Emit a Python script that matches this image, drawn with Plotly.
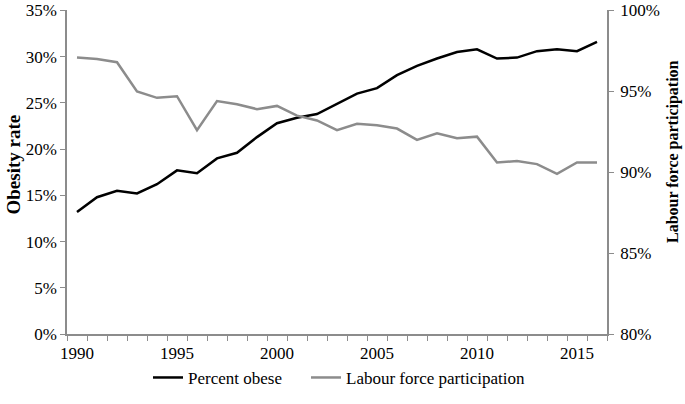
import plotly.graph_objects as go

years = list(range(1990, 2017))
percent_obese = [13.2, 14.8, 15.5, 15.2, 16.2, 17.7, 17.4, 19.0, 19.6, 21.3,
                 22.8, 23.4, 23.8, 24.9, 26.0, 26.6, 28.0, 29.0, 29.8, 30.5,
                 30.8, 29.8, 29.9, 30.6, 30.8, 30.6, 31.6]
labour_force = [97.1, 97.0, 96.8, 95.0, 94.6, 94.7, 92.6, 94.4, 94.2, 93.9,
                94.1, 93.5, 93.2, 92.6, 93.0, 92.9, 92.7, 92.0, 92.4, 92.1,
                92.2, 90.6, 90.7, 90.5, 89.9, 90.6, 90.6]
x_labels = [1990, 1995, 2000, 2005, 2010, 2015]
left_ticks = [0, 5, 10, 15, 20, 25, 30, 35]
right_ticks = [80, 85, 90, 95, 100]

serif = "Liberation Serif"
axis_grey = "#8c8c8c"
tick_font = dict(family=serif, size=17, color="black")
top, bottom = 10, 70
plot_h = 404 - top - bottom

fig = go.Figure()
fig.add_trace(go.Scatter(
    x=years, y=percent_obese, name="Percent obese", legend="legend",
    mode="lines", line=dict(color="black", width=2.5)))
fig.add_trace(go.Scatter(
    x=years, y=labour_force, name="Labour force participation", legend="legend2",
    mode="lines", line=dict(color="#8c8c8c", width=2.5), yaxis="y2"))

legend_style = dict(orientation="h", yanchor="top", y=-0.08, xanchor="left",
                    font=dict(family=serif, size=17), itemwidth=30,
                    bgcolor="rgba(0,0,0,0)")

fig.update_layout(
    width=685, height=404,
    margin=dict(l=67, r=78, t=top, b=bottom, autoexpand=False),
    plot_bgcolor="white", paper_bgcolor="white",
    font=dict(family=serif, size=17, color="black"),
    showlegend=True,
    legend=dict(legend_style, x=(148 - 67) / 540),
    legend2=dict(legend_style, x=(306 - 67) / 540),
    xaxis=dict(range=[1989.5, 2016.5], tickvals=x_labels, ticks="",
               tickfont=tick_font, automargin=False, ticklabelstandoff=3,
               showline=True, linecolor=axis_grey, linewidth=1.5,
               showgrid=False, zeroline=False,
               minor=dict(tick0=1989.5, dtick=1, ticks="outside", ticklen=5,
                          tickcolor=axis_grey, showgrid=False)),
    yaxis=dict(range=[0, 35.05], tickvals=left_ticks,
               ticktext=[f"{v}%" for v in left_ticks], tickfont=tick_font,
               ticks="outside", ticklen=5, tickcolor=axis_grey, automargin=False,
               ticklabeloverflow="allow",
               showline=True, linecolor=axis_grey, linewidth=1.5,
               showgrid=False, zeroline=False),
    yaxis2=dict(range=[80, 100 + 0.05 * 20 / 35], tickvals=right_ticks,
                ticktext=[f"{v}%" for v in right_ticks], tickfont=tick_font,
                overlaying="y", side="right", automargin=False,
                ticklabeloverflow="allow", ticklabelstandoff=3,
                ticks="outside", ticklen=5, tickcolor=axis_grey,
                showline=True, linecolor=axis_grey, linewidth=1.5,
                showgrid=False, zeroline=False),
    annotations=[
        dict(text="<b>Obesity rate</b>", xref="paper", yref="paper",
             x=-67 / 540, y=(334 - 165) / plot_h, xanchor="left", yanchor="middle",
             textangle=-90, showarrow=False, font=dict(family=serif, size=19)),
        dict(text="<b>Labour force participation</b>", xref="paper", yref="paper",
             x=1 + 77 / 540, y=(334 - 152) / plot_h, xanchor="right", yanchor="middle",
             textangle=-90, showarrow=False, font=dict(family=serif, size=16)),
    ],
)

# the page's default body margin would shift the figure by 8px
fig.write_html("out.html", config={"displayModeBar": False},
               post_script="document.body.style.margin = '0';")
